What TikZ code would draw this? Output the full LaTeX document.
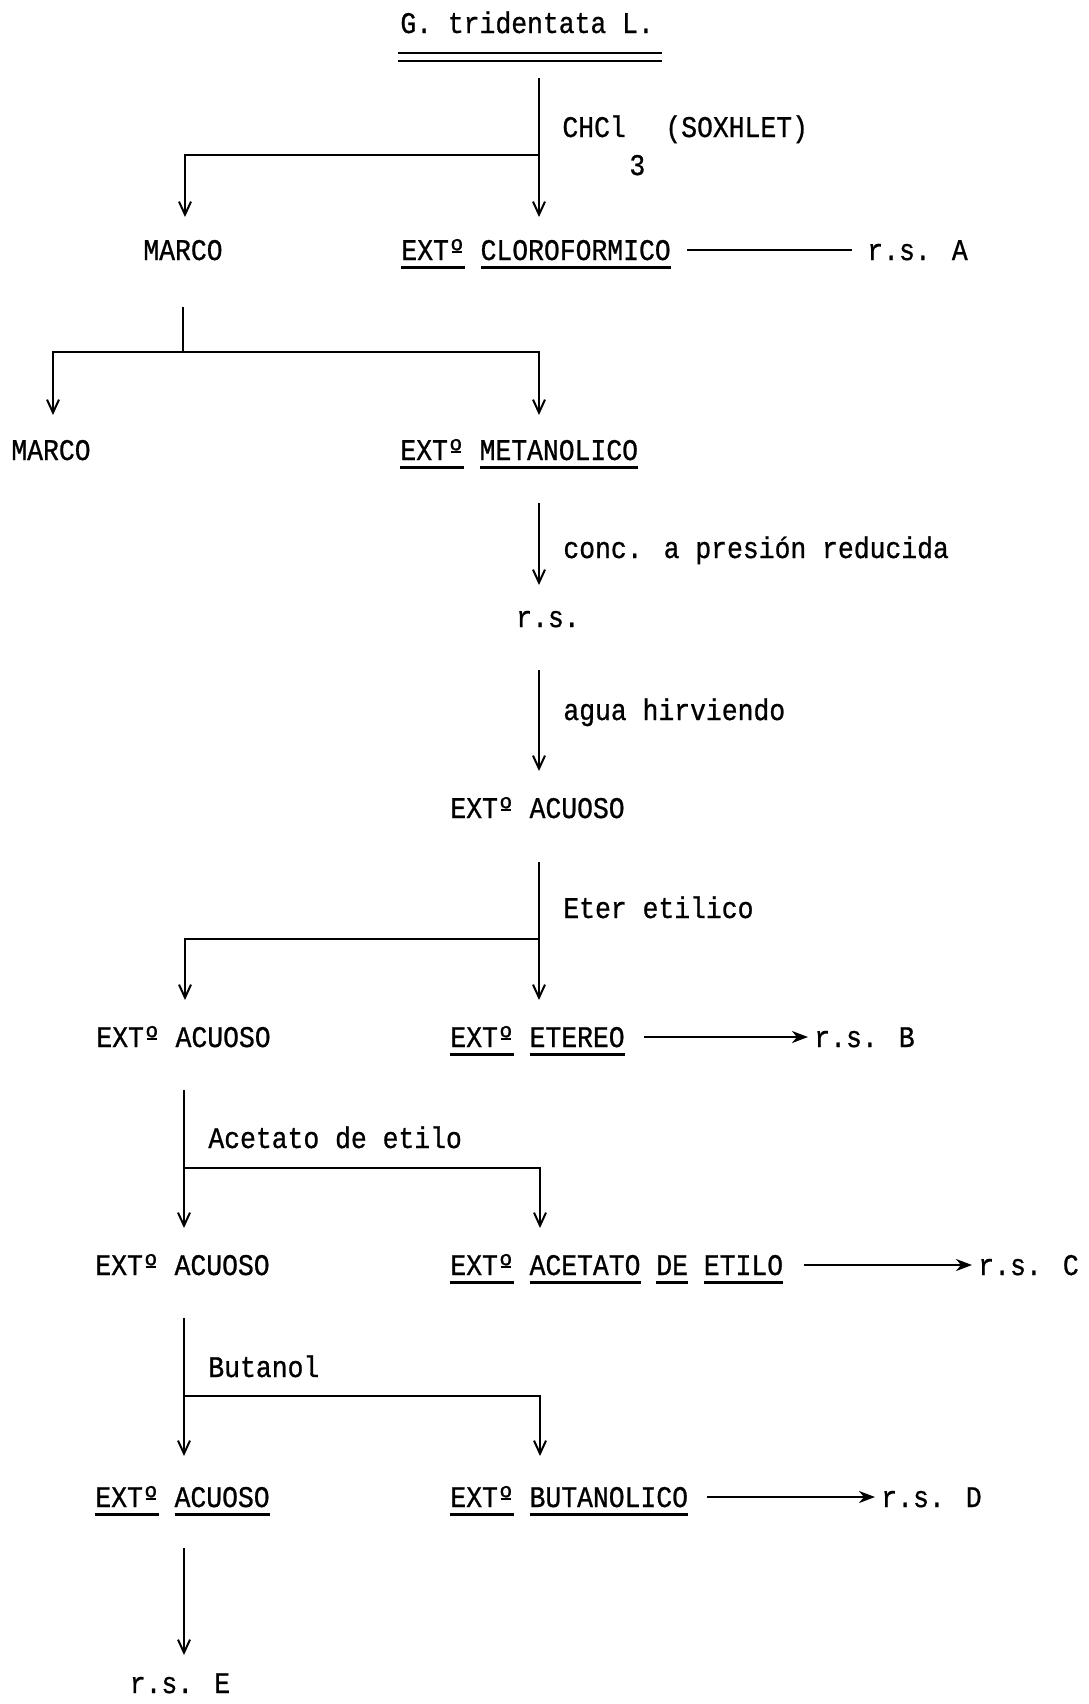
\documentclass[tikz,border=0pt]{standalone}
\usepackage{fontspec}
\newfontfamily\twfont[FakeStretch=0.88,FakeBold=0.8]{Liberation Mono}
\usetikzlibrary{arrows.meta,calc}
\newcommand\xul[1]{\setbox0\hbox{#1}\rlap{\usebox0}\raisebox{-4.3pt}{\rule{\wd0}{1.5pt}}}
\newcommand\ordm{\setbox2\hbox{º}\rlap{\usebox2}\raisebox{3.6pt}{\hbox to \wd2{\hss\rule{0.6\wd2}{1pt}\hss}}}
\begin{document}
\begin{tikzpicture}[x=0.5pt,y=-0.5pt,
  lbl/.style={font=\twfont\fontsize{15pt}{18pt}\selectfont, inner sep=0pt, anchor=base west},
  clbl/.style={lbl, anchor=base},
  ln/.style={line width=1pt},
  varrow/.style={line width=1pt, -{Straight Barb[length=6.5pt,width=6pt,line width=1pt]}},
  harrow/.style={line width=1.2pt, -{Stealth[length=8pt,width=6pt,inset=2.5pt]}}]
\useasboundingbox (0,0) rectangle (1088,1704);

% title
\node[lbl] (title) at (400,33) {G. tridentata L.};
\coordinate (u1a) at (398,53); \coordinate (u1b) at (662,53);
\coordinate (u2a) at (398,61); \coordinate (u2b) at (662,61);
\draw[line width=1.3pt] (u1a) -- (u1b);
\draw[line width=1.3pt] (u2a) -- (u2b);

% step 1: CHCl3
\coordinate (s1top) at (539,78);
\coordinate (s1j) at (539,155);
\coordinate (s1tip) at (539,217);
\coordinate (s1l) at (185,155);
\coordinate (s1ltip) at (185,217);
\draw[varrow] (s1top) -- (s1tip);
\draw[varrow] (s1j) -- (s1l) -- (s1ltip);
\node[lbl] (chcl) at (562,137) {CHCl};
\node[lbl] (three) at (629,175) {3};
\node[lbl] (soxh) at (665,137) {(SOXHLET)};

% row 2
\node[clbl] (marco1) at (183,260) {MARCO};
\node[lbl] (clor) at (401,260) {\xul{EXT\ordm} \xul{CLOROFORMICO}};
\node[lbl] (rsA) at (867,260) {r.s. A};
\draw[ln] ($(clor.base east)+(16,-10)$) -- ($(rsA.base west)+(-15,-10)$);

% marco split
\coordinate (m2top) at (183,307);
\coordinate (m2j) at (183,352);
\coordinate (m2l) at (53,352);
\coordinate (m2r) at (539,352);
\coordinate (m2ltip) at (53,415);
\coordinate (m2rtip) at (539,415);
\draw[ln] (m2top) -- (m2j);
\draw[varrow] (m2j) -- (m2l) -- (m2ltip);
\draw[varrow] (m2j) -- (m2r) -- (m2rtip);

% row 3
\node[lbl] (marco2) at (11,460) {MARCO};
\node[lbl] (metan) at (400,460) {\xul{EXT\ordm} \xul{METANOLICO}};

% conc
\coordinate (c1top) at (539,503);
\coordinate (c1tip) at (539,585);
\draw[varrow] (c1top) -- (c1tip);
\node[lbl] (conc) at (563,558) {conc. a presión reducida};
\node[clbl] (rs1) at (548,627) {r.s.};

% agua
\coordinate (a1top) at (539,670);
\coordinate (a1tip) at (539,771);
\draw[varrow] (a1top) -- (a1tip);
\node[lbl] (agua) at (563,720) {agua hirviendo};
\node[lbl] (acu1) at (450,818) {EXT\ordm{} ACUOSO};

% eter
\coordinate (e1top) at (539,862);
\coordinate (e1j) at (539,939);
\coordinate (e1tip) at (539,1000);
\coordinate (e1l) at (185,939);
\coordinate (e1ltip) at (185,1000);
\draw[varrow] (e1top) -- (e1tip);
\draw[varrow] (e1j) -- (e1l) -- (e1ltip);
\node[lbl] (eter) at (563,918) {Eter etilico};

% row 5
\node[lbl] (acu2) at (96,1047) {EXT\ordm{} ACUOSO};
\node[lbl] (etereo) at (450,1047) {\xul{EXT\ordm} \xul{ETEREO}};
\node[lbl] (rsB) at (814,1047) {r.s. B};
\draw[harrow] ($(etereo.base east)+(19,-10)$) -- ($(rsB.base west)+(-6,-10)$);

% acetato
\coordinate (t1top) at (184,1090);
\coordinate (t1j) at (184,1168);
\coordinate (t1tip) at (184,1228);
\coordinate (t1r) at (540,1168);
\coordinate (t1rtip) at (540,1228);
\draw[varrow] (t1top) -- (t1tip);
\draw[varrow] (t1j) -- (t1r) -- (t1rtip);
\node[lbl] (acet) at (208,1148) {Acetato de etilo};

% row 6
\node[lbl] (acu3) at (95,1275) {EXT\ordm{} ACUOSO};
\node[lbl] (acetx) at (450,1275) {\xul{EXT\ordm} \xul{ACETATO} \xul{DE} \xul{ETILO}};
\node[lbl] (rsC) at (978,1275) {r.s. C};
\draw[harrow] ($(acetx.base east)+(20,-10)$) -- ($(rsC.base west)+(-6,-10)$);

% butanol
\coordinate (b1top) at (184,1318);
\coordinate (b1j) at (184,1396);
\coordinate (b1tip) at (184,1456);
\coordinate (b1r) at (540,1396);
\coordinate (b1rtip) at (540,1456);
\draw[varrow] (b1top) -- (b1tip);
\draw[varrow] (b1j) -- (b1r) -- (b1rtip);
\node[lbl] (buta) at (208,1377) {Butanol};

% row 7
\node[lbl] (acu4) at (95,1507) {\xul{EXT\ordm} \xul{ACUOSO}};
\node[lbl] (butx) at (450,1507) {\xul{EXT\ordm} \xul{BUTANOLICO}};
\node[lbl] (rsD) at (881,1507) {r.s. D};
\draw[harrow] ($(butx.base east)+(19,-10)$) -- ($(rsD.base west)+(-6,-10)$);

% final
\coordinate (f1top) at (184,1548);
\coordinate (f1tip) at (184,1655);
\draw[varrow] (f1top) -- (f1tip);
\node[clbl] (rsE) at (180,1693) {r.s. E};
\end{tikzpicture}
\end{document}
